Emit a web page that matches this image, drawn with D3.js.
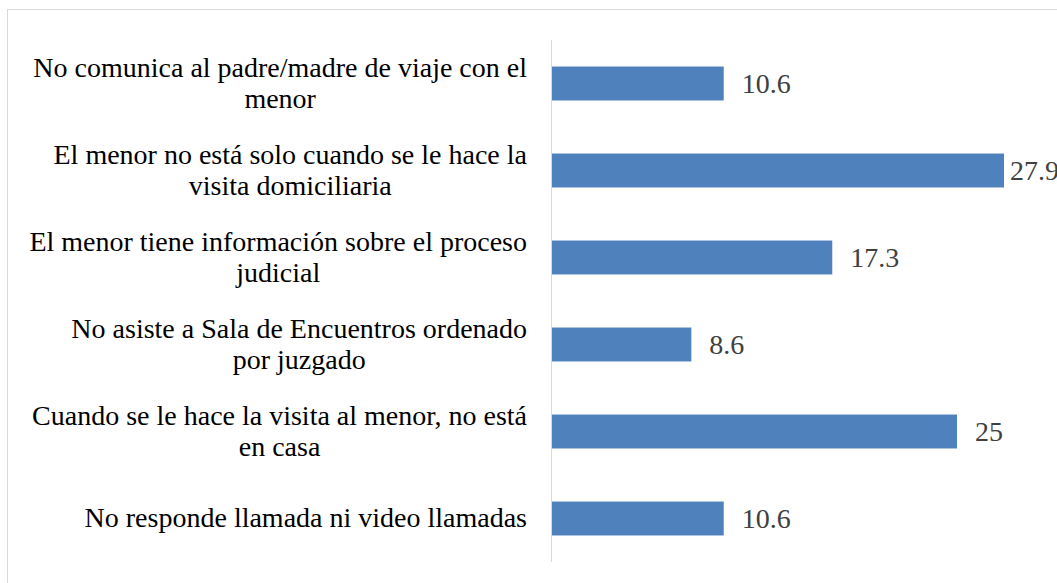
<!DOCTYPE html>
<html>
<head>
<meta charset="utf-8">
<script src="https://cdn.jsdelivr.net/npm/d3@7"></script>
<style>
  body { margin: 0; background: #fff; }
  svg { display: block; }
</style>
</head>
<body>
<svg id="chart"></svg>
<script>
const categories = [
    "No comunica al padre/madre de viaje con el\nmenor",
    "El menor no está solo cuando se le hace la\nvisita domiciliaria",
    "El menor tiene información sobre el proceso\njudicial",
    "No asiste a Sala de Encuentros ordenado\npor juzgado",
    "Cuando se le hace la visita al menor, no está\nen casa",
    "No responde llamada ni video llamadas"
];
const values = [10.6, 27.9, 17.3, 8.6, 25, 10.6];

const width = 1057;
const height = 583;
const margin = { top: 40, left: 551, bottom: 21 };
const fontFamily = "'Liberation Serif'";
const fontSize = "28px";

const svg = d3.select("#chart")
    .attr("width", width)
    .attr("height", height);

// chart frame (runs past the right and bottom edge)
svg.append("rect")
    .attr("x", 7.5)
    .attr("y", 9.5)
    .attr("width", 1100)
    .attr("height", 600)
    .attr("fill", "none")
    .attr("stroke", "#d9d9d9")
    .attr("stroke-width", 1);

const x = d3.scaleLinear()
    .domain([0, 27.9])
    .range([margin.left + 1, 1004]);

const y = d3.scaleBand()
    .domain(d3.range(categories.length))
    .range([margin.top, height - margin.bottom])
    .paddingInner(0.61)
    .paddingOuter(0.305);

svg.append("g")
    .selectAll("rect")
    .data(values)
    .join("rect")
    .attr("x", x(0))
    .attr("y", (d, i) => y(i))
    .attr("width", d => x(d) - x(0))
    .attr("height", y.bandwidth())
    .attr("fill", "#4f81bd");

// vertical axis line
svg.append("line")
    .attr("x1", margin.left + 0.5)
    .attr("x2", margin.left + 0.5)
    .attr("y1", margin.top)
    .attr("y2", height - margin.bottom)
    .attr("stroke", "#d9d9d9")
    .attr("stroke-width", 1);

// value labels
svg.append("g")
    .selectAll("text")
    .data(values)
    .join("text")
    .attr("x", d => Math.min(x(d) + 18, 1010))
    .attr("y", (d, i) => y(i) + y.bandwidth() / 2)
    .attr("dy", "0.33em")
    .style("font-family", fontFamily)
    .style("font-size", fontSize)
    .attr("fill", "#404040")
    .text(d => d);

// category labels: block right-aligned, lines centred inside the block
const labelRight = 527;
const lineHeight = 31;
const labels = svg.append("g");

categories.forEach((c, i) => {
    const lines = c.split("\n");
    const texts = lines.map((l, j) => labels.append("text")
        .attr("text-anchor", "middle")
        .attr("y", y(i) + y.bandwidth() / 2 + (j - (lines.length - 1) / 2) * lineHeight)
        .attr("dy", "0.32em")
        .style("font-family", fontFamily)
        .style("font-size", fontSize)
        .attr("fill", "#000")
        .text(l));
    const blockWidth = d3.max(texts, t => t.node().getComputedTextLength());
    texts.forEach(t => t.attr("x", labelRight - blockWidth / 2));
});
</script>
</body>
</html>
